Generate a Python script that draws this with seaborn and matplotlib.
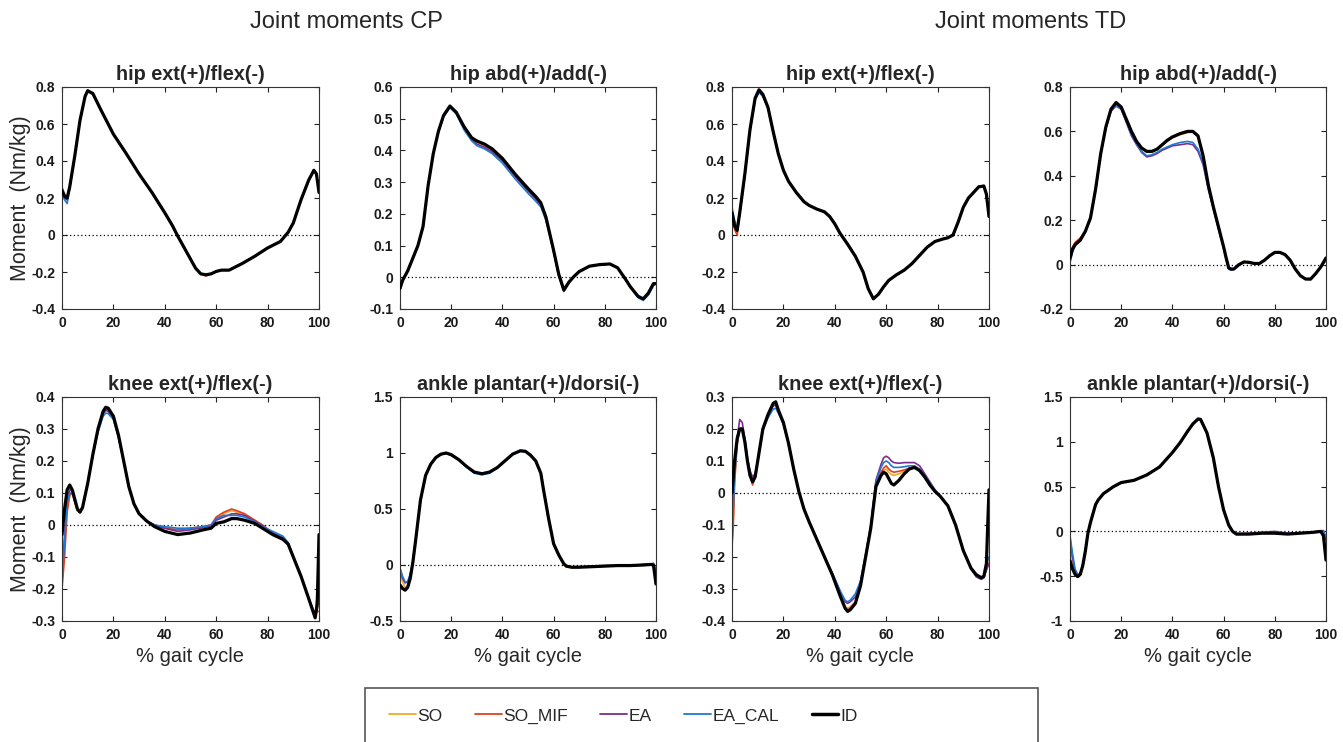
import matplotlib
matplotlib.use("Agg")
import matplotlib.pyplot as plt
import seaborn as sns
from matplotlib.lines import Line2D
from matplotlib.patches import Rectangle

sns.set_style("ticks")
plt.rcParams['font.family'] = ['Liberation Sans', 'DejaVu Sans']

# ---------------- data ----------------
series_names = ["SO", "SO_MIF", "EA", "EA_CAL", "ID"]
group_titles = ["Joint moments CP", "Joint moments TD"]
panel_titles = ["hip ext(+)/flex(-)", "hip abd(+)/add(-)", "hip ext(+)/flex(-)", "hip abd(+)/add(-)",
                "knee ext(+)/flex(-)", "ankle plantar(+)/dorsi(-)", "knee ext(+)/flex(-)", "ankle plantar(+)/dorsi(-)"]
x_ticks = [0, 20, 40, 60, 80, 100]

# A: CP hip ext/flex
xA = [0, 1, 2, 3, 5, 7, 9, 10, 12, 15, 20, 25, 30, 35, 40, 43, 45, 48, 50, 52, 54, 56, 58, 60, 62, 65, 70, 75, 80, 85, 88, 90, 93, 96, 98, 99, 100]
idA = [0.24, 0.21, 0.20, 0.26, 0.43, 0.62, 0.75, 0.78, 0.765, 0.68, 0.545, 0.44, 0.33, 0.23, 0.12, 0.05, -0.005, -0.08, -0.13, -0.18, -0.21, -0.215, -0.21, -0.197, -0.19, -0.19, -0.155, -0.115, -0.07, -0.035, 0.015, 0.065, 0.19, 0.297, 0.35, 0.33, 0.23]
soA = [0.25, 0.21, 0.20, 0.26, 0.43, 0.62, 0.75, 0.78, 0.765, 0.68, 0.545, 0.44, 0.33, 0.23, 0.12, 0.05, -0.005, -0.08, -0.13, -0.18, -0.21, -0.215, -0.21, -0.197, -0.19, -0.19, -0.155, -0.115, -0.07, -0.035, 0.015, 0.065, 0.19, 0.297, 0.35, 0.33, 0.23]
somifA = [0.26, 0.22, 0.20, 0.26, 0.43, 0.62, 0.75, 0.78, 0.765, 0.68, 0.545, 0.44, 0.33, 0.23, 0.12, 0.05, -0.005, -0.08, -0.13, -0.18, -0.21, -0.222, -0.21, -0.197, -0.19, -0.19, -0.155, -0.115, -0.07, -0.035, 0.015, 0.065, 0.19, 0.297, 0.35, 0.33, 0.23]
eaA = [0.23, 0.20, 0.19, 0.26, 0.43, 0.62, 0.75, 0.78, 0.765, 0.68, 0.545, 0.44, 0.33, 0.23, 0.12, 0.05, -0.005, -0.08, -0.13, -0.18, -0.21, -0.215, -0.21, -0.197, -0.19, -0.19, -0.155, -0.115, -0.07, -0.035, 0.015, 0.065, 0.19, 0.297, 0.35, 0.33, 0.23]
ealA = [0.22, 0.19, 0.17, 0.25, 0.43, 0.62, 0.75, 0.775, 0.76, 0.68, 0.545, 0.44, 0.33, 0.23, 0.12, 0.05, -0.005, -0.08, -0.13, -0.18, -0.21, -0.215, -0.21, -0.197, -0.19, -0.19, -0.155, -0.115, -0.07, -0.035, 0.015, 0.065, 0.19, 0.297, 0.35, 0.33, 0.23]

# B: CP hip abd/add
xB = [0, 1, 3, 5, 7, 9, 11, 13, 15, 17, 19.5, 22, 25, 28, 30, 33, 36, 40, 45, 50, 53, 55, 57, 59, 60, 62, 64, 66, 68, 70, 74, 78, 82, 85, 88, 90, 93, 95, 97, 99, 100]
idB = [-0.035, -0.01, 0.02, 0.06, 0.1, 0.16, 0.29, 0.39, 0.46, 0.51, 0.54, 0.52, 0.475, 0.44, 0.43, 0.42, 0.405, 0.375, 0.325, 0.28, 0.255, 0.235, 0.19, 0.12, 0.085, 0.01, -0.04, -0.015, 0.003, 0.018, 0.035, 0.04, 0.042, 0.03, -0.005, -0.03, -0.06, -0.068, -0.05, -0.02, -0.02]
soB = [-0.035, -0.01, 0.02, 0.06, 0.1, 0.16, 0.29, 0.39, 0.46, 0.51, 0.538, 0.518, 0.472, 0.438, 0.425, 0.415, 0.4, 0.37, 0.32, 0.276, 0.251, 0.232, 0.188, 0.12, 0.085, 0.01, -0.04, -0.015, 0.003, 0.018, 0.035, 0.04, 0.042, 0.03, -0.005, -0.03, -0.06, -0.068, -0.05, -0.02, -0.02]
somifB = [-0.035, -0.01, 0.02, 0.06, 0.1, 0.16, 0.29, 0.39, 0.46, 0.51, 0.539, 0.519, 0.473, 0.439, 0.428, 0.418, 0.402, 0.372, 0.322, 0.277, 0.252, 0.233, 0.189, 0.12, 0.085, 0.01, -0.04, -0.015, 0.003, 0.018, 0.035, 0.04, 0.042, 0.03, -0.005, -0.03, -0.06, -0.068, -0.05, -0.02, -0.02]
eaB = [-0.04, -0.012, 0.02, 0.06, 0.1, 0.16, 0.29, 0.39, 0.46, 0.508, 0.537, 0.517, 0.47, 0.435, 0.42, 0.41, 0.395, 0.367, 0.318, 0.272, 0.247, 0.228, 0.185, 0.118, 0.083, 0.005, -0.045, -0.018, 0.003, 0.018, 0.035, 0.04, 0.042, 0.03, -0.005, -0.032, -0.062, -0.071, -0.055, -0.025, -0.02]
ealB = [-0.04, -0.012, 0.02, 0.06, 0.1, 0.16, 0.29, 0.39, 0.458, 0.505, 0.535, 0.515, 0.465, 0.43, 0.415, 0.405, 0.39, 0.36, 0.31, 0.265, 0.24, 0.222, 0.18, 0.115, 0.08, 0.005, -0.04, -0.015, 0.003, 0.018, 0.035, 0.04, 0.042, 0.03, -0.005, -0.032, -0.064, -0.073, -0.056, -0.026, -0.02]

# C: TD hip ext/flex
xC = [0, 1, 2, 3, 5, 7, 9, 10.5, 12, 14, 16, 18, 20, 22, 25, 28, 30, 33, 36, 38, 40, 42, 43, 45, 48, 51, 53, 55, 57, 59, 61, 64, 67, 70, 73, 76, 79, 82, 84, 86, 88, 90, 92, 94, 96, 98, 99, 100]
idC = [0.12, 0.05, 0.025, 0.12, 0.33, 0.57, 0.74, 0.785, 0.76, 0.69, 0.56, 0.44, 0.35, 0.29, 0.23, 0.18, 0.16, 0.14, 0.125, 0.1, 0.06, 0.01, -0.01, -0.05, -0.115, -0.2, -0.29, -0.345, -0.32, -0.28, -0.245, -0.215, -0.19, -0.155, -0.11, -0.065, -0.035, -0.022, -0.015, 0.0, 0.07, 0.15, 0.2, 0.23, 0.26, 0.265, 0.22, 0.1]
soC = [0.12, 0.04, 0.01, 0.12, 0.33, 0.57, 0.74, 0.785, 0.76, 0.69, 0.56, 0.44, 0.35, 0.29, 0.23, 0.18, 0.16, 0.14, 0.125, 0.1, 0.06, 0.01, -0.01, -0.05, -0.115, -0.2, -0.29, -0.345, -0.32, -0.28, -0.245, -0.215, -0.19, -0.155, -0.11, -0.065, -0.035, -0.022, -0.015, 0.0, 0.07, 0.15, 0.2, 0.23, 0.26, 0.265, 0.22, 0.1]
somifC = [0.11, 0.03, 0.0, 0.11, 0.33, 0.57, 0.74, 0.785, 0.76, 0.69, 0.56, 0.44, 0.35, 0.29, 0.23, 0.18, 0.16, 0.14, 0.125, 0.1, 0.06, 0.01, -0.01, -0.05, -0.115, -0.2, -0.29, -0.345, -0.32, -0.28, -0.245, -0.215, -0.19, -0.155, -0.11, -0.065, -0.035, -0.022, -0.015, 0.0, 0.07, 0.15, 0.2, 0.23, 0.26, 0.265, 0.22, 0.1]
eaC = [0.13, 0.06, 0.03, 0.12, 0.33, 0.57, 0.74, 0.78, 0.755, 0.69, 0.56, 0.44, 0.35, 0.29, 0.23, 0.18, 0.16, 0.14, 0.125, 0.1, 0.06, 0.01, -0.01, -0.05, -0.115, -0.2, -0.29, -0.345, -0.32, -0.28, -0.245, -0.215, -0.19, -0.155, -0.11, -0.065, -0.035, -0.022, -0.015, 0.0, 0.07, 0.15, 0.2, 0.23, 0.26, 0.265, 0.22, 0.1]
ealC = [0.15, 0.08, 0.03, 0.11, 0.32, 0.56, 0.73, 0.77, 0.75, 0.685, 0.56, 0.44, 0.35, 0.29, 0.23, 0.18, 0.16, 0.14, 0.125, 0.1, 0.06, 0.01, -0.01, -0.05, -0.115, -0.2, -0.29, -0.345, -0.32, -0.28, -0.245, -0.215, -0.19, -0.155, -0.11, -0.065, -0.035, -0.022, -0.015, 0.0, 0.07, 0.15, 0.2, 0.23, 0.265, 0.265, 0.22, 0.1]

# D: TD hip abd/add
xD = [0, 1, 2, 4, 6, 8, 10, 12, 14, 16, 18, 20, 22, 24, 26, 28, 30, 32, 34, 36, 38, 40, 43, 46, 48, 50, 52, 54, 56, 58, 60, 61, 62, 63, 64, 66, 68, 70, 72, 74, 76, 78, 80, 82, 84, 86, 88, 90, 92, 94, 96, 98, 100]
idD = [0.03, 0.07, 0.09, 0.11, 0.15, 0.21, 0.34, 0.5, 0.62, 0.7, 0.73, 0.71, 0.655, 0.6, 0.555, 0.525, 0.51, 0.51, 0.52, 0.54, 0.56, 0.575, 0.59, 0.6, 0.6, 0.58, 0.49, 0.36, 0.26, 0.17, 0.08, 0.03, -0.015, -0.02, -0.02, 0.0, 0.012, 0.01, 0.005, 0.005, 0.02, 0.04, 0.055, 0.055, 0.045, 0.02, -0.02, -0.05, -0.065, -0.065, -0.04, -0.01, 0.03]
soD = [0.03, 0.07, 0.09, 0.11, 0.15, 0.21, 0.34, 0.5, 0.62, 0.7, 0.728, 0.708, 0.652, 0.598, 0.553, 0.522, 0.507, 0.507, 0.517, 0.537, 0.556, 0.57, 0.585, 0.595, 0.595, 0.575, 0.49, 0.36, 0.26, 0.17, 0.08, 0.03, -0.015, -0.02, -0.02, 0.0, 0.012, 0.01, 0.005, 0.005, 0.02, 0.04, 0.055, 0.055, 0.045, 0.02, -0.02, -0.05, -0.065, -0.065, -0.04, -0.01, 0.03]
somifD = [0.04, 0.08, 0.1, 0.12, 0.15, 0.21, 0.34, 0.5, 0.62, 0.7, 0.728, 0.708, 0.653, 0.599, 0.555, 0.524, 0.51, 0.51, 0.52, 0.54, 0.56, 0.577, 0.592, 0.603, 0.6, 0.58, 0.49, 0.36, 0.26, 0.17, 0.08, 0.03, -0.015, -0.02, -0.02, 0.0, 0.012, 0.01, 0.005, 0.005, 0.02, 0.04, 0.055, 0.055, 0.045, 0.02, -0.02, -0.05, -0.065, -0.065, -0.04, -0.01, 0.03]
eaD = [0.01, 0.06, 0.085, 0.11, 0.15, 0.21, 0.34, 0.5, 0.615, 0.69, 0.715, 0.7, 0.64, 0.58, 0.54, 0.505, 0.485, 0.49, 0.5, 0.515, 0.525, 0.535, 0.54, 0.545, 0.54, 0.51, 0.45, 0.34, 0.25, 0.16, 0.075, 0.025, -0.02, -0.025, -0.02, 0.0, 0.012, 0.01, 0.005, 0.005, 0.02, 0.04, 0.055, 0.055, 0.045, 0.02, -0.02, -0.05, -0.065, -0.068, -0.04, -0.01, 0.02]
ealD = [0.01, 0.06, 0.085, 0.11, 0.15, 0.21, 0.34, 0.5, 0.615, 0.695, 0.715, 0.7, 0.645, 0.585, 0.545, 0.51, 0.49, 0.495, 0.505, 0.52, 0.53, 0.54, 0.55, 0.555, 0.55, 0.52, 0.46, 0.35, 0.255, 0.165, 0.075, 0.025, -0.02, -0.025, -0.02, 0.0, 0.012, 0.01, 0.005, 0.005, 0.02, 0.04, 0.055, 0.055, 0.045, 0.02, -0.02, -0.05, -0.065, -0.065, -0.04, -0.01, 0.02]

# E: CP knee ext/flex
xE = [0, 1, 2, 3, 4, 5, 6, 7, 8, 10, 12, 14, 16, 17, 18, 20, 22, 24, 26, 28, 30, 33, 36, 40, 45, 50, 55, 58, 60, 63, 66, 68, 71, 75, 78, 82, 86, 88, 90, 93, 96, 98.5, 99.3, 100]
idE = [-0.03, 0.05, 0.11, 0.125, 0.11, 0.08, 0.05, 0.04, 0.055, 0.13, 0.22, 0.3, 0.355, 0.368, 0.365, 0.34, 0.28, 0.2, 0.12, 0.066, 0.035, 0.012, -0.005, -0.02, -0.03, -0.025, -0.015, -0.01, 0.005, 0.01, 0.02, 0.02, 0.015, 0.005, -0.01, -0.03, -0.045, -0.06, -0.1, -0.16, -0.23, -0.29, -0.25, -0.03]
soE = [-0.18, -0.06, 0.05, 0.09, 0.1, 0.07, 0.045, 0.04, 0.055, 0.13, 0.22, 0.295, 0.35, 0.36, 0.358, 0.335, 0.275, 0.2, 0.12, 0.066, 0.035, 0.012, 0.0, -0.01, -0.015, -0.01, -0.005, 0.0, 0.02, 0.035, 0.045, 0.04, 0.035, 0.015, 0.0, -0.025, -0.04, -0.058, -0.1, -0.16, -0.23, -0.28, -0.26, -0.23]
somifE = [-0.2, -0.1, 0.04, 0.095, 0.1, 0.07, 0.045, 0.04, 0.055, 0.13, 0.22, 0.295, 0.352, 0.362, 0.36, 0.336, 0.276, 0.2, 0.12, 0.066, 0.035, 0.012, 0.0, -0.01, -0.015, -0.01, -0.005, 0.0, 0.025, 0.04, 0.05, 0.045, 0.035, 0.015, 0.0, -0.025, -0.04, -0.058, -0.1, -0.16, -0.23, -0.28, -0.27, -0.27]
eaE = [-0.16, -0.03, 0.08, 0.11, 0.105, 0.075, 0.048, 0.04, 0.055, 0.13, 0.22, 0.295, 0.35, 0.358, 0.355, 0.332, 0.274, 0.2, 0.12, 0.066, 0.035, 0.012, 0.0, -0.01, -0.02, -0.015, -0.008, -0.003, 0.015, 0.025, 0.035, 0.035, 0.03, 0.012, -0.002, -0.025, -0.04, -0.058, -0.1, -0.16, -0.23, -0.28, -0.22, -0.16]
ealE = [-0.17, -0.05, 0.07, 0.1, 0.1, 0.075, 0.048, 0.04, 0.055, 0.13, 0.22, 0.29, 0.34, 0.35, 0.348, 0.33, 0.272, 0.2, 0.12, 0.066, 0.035, 0.012, 0.0, -0.005, -0.01, -0.01, -0.005, 0.0, 0.02, 0.03, 0.03, 0.03, 0.025, 0.01, -0.005, -0.02, -0.035, -0.055, -0.1, -0.16, -0.23, -0.28, -0.24, -0.2]

# F: CP ankle plantar/dorsi
xF = [0, 1, 2, 3, 4, 5, 6, 8, 10, 12, 14, 16, 18, 20, 23, 26, 29, 32, 35, 38, 41, 44, 47, 49, 51, 53, 55, 56, 58, 60, 62, 64, 65, 67, 70, 75, 80, 85, 90, 95, 98, 99, 100]
idF = [-0.18, -0.21, -0.225, -0.2, -0.12, 0.02, 0.2, 0.58, 0.8, 0.9, 0.96, 0.99, 1.0, 0.985, 0.94, 0.88, 0.83, 0.815, 0.83, 0.87, 0.93, 0.99, 1.02, 1.015, 0.98, 0.93, 0.82, 0.68, 0.42, 0.19, 0.09, 0.01, -0.01, -0.02, -0.02, -0.015, -0.01, -0.005, -0.005, 0.0, 0.005, 0.0, -0.17]
soF = [-0.05, -0.15, -0.2, -0.19, -0.12, 0.02, 0.2, 0.58, 0.8, 0.9, 0.96, 0.99, 1.0, 0.985, 0.94, 0.88, 0.83, 0.815, 0.83, 0.87, 0.93, 0.99, 1.02, 1.015, 0.98, 0.93, 0.82, 0.68, 0.42, 0.19, 0.09, 0.0, -0.02, -0.02, -0.02, -0.015, -0.01, -0.005, -0.005, 0.0, 0.008, 0.01, -0.06]
somifF = [-0.17, -0.2, -0.22, -0.2, -0.12, 0.02, 0.2, 0.58, 0.8, 0.9, 0.96, 0.99, 1.0, 0.985, 0.94, 0.88, 0.83, 0.815, 0.83, 0.87, 0.93, 0.99, 1.02, 1.015, 0.98, 0.93, 0.82, 0.68, 0.42, 0.19, 0.09, 0.01, -0.01, -0.02, -0.02, -0.015, -0.01, -0.005, -0.005, 0.0, 0.005, 0.005, -0.1]
eaF = [-0.03, -0.12, -0.16, -0.15, -0.09, 0.03, 0.2, 0.58, 0.8, 0.9, 0.96, 0.99, 1.0, 0.985, 0.94, 0.88, 0.83, 0.815, 0.83, 0.87, 0.93, 0.99, 1.02, 1.015, 0.98, 0.93, 0.82, 0.68, 0.42, 0.19, 0.09, 0.01, -0.01, -0.02, -0.015, -0.01, -0.005, -0.005, -0.005, 0.005, 0.01, 0.015, -0.05]
ealF = [-0.03, -0.1, -0.15, -0.15, -0.08, 0.03, 0.2, 0.58, 0.8, 0.9, 0.955, 0.985, 0.995, 0.98, 0.935, 0.875, 0.82, 0.805, 0.82, 0.865, 0.925, 0.985, 1.015, 1.01, 0.975, 0.93, 0.82, 0.68, 0.42, 0.19, 0.09, 0.01, -0.01, -0.02, -0.02, -0.015, -0.01, -0.005, -0.005, 0.0, 0.005, 0.01, -0.1]

# G: TD knee ext/flex
xG = [0, 0.5, 1, 2, 3, 4, 5, 6, 7, 8, 9, 10, 12, 14, 16, 17, 18, 20, 22, 24, 26, 28, 30, 33, 36, 39, 42, 44, 45, 46, 48, 50, 52, 54, 56, 58, 59, 60, 61, 62, 63, 65, 67, 69, 71, 73, 75, 77, 79, 81, 84, 87, 90, 93, 95, 97, 98, 99, 99.5, 100]
idG = [0.0, 0.05, 0.1, 0.17, 0.2, 0.2, 0.16, 0.1, 0.055, 0.035, 0.05, 0.1, 0.2, 0.245, 0.28, 0.285, 0.26, 0.22, 0.155, 0.075, 0.005, -0.05, -0.09, -0.145, -0.2, -0.255, -0.32, -0.36, -0.37, -0.365, -0.345, -0.29, -0.2, -0.11, 0.02, 0.055, 0.065, 0.06, 0.045, 0.03, 0.025, 0.04, 0.06, 0.075, 0.08, 0.07, 0.05, 0.025, 0.005, -0.01, -0.04, -0.1, -0.18, -0.235, -0.255, -0.265, -0.26, -0.22, -0.1, 0.01]
soG = [-0.16, -0.08, 0.04, 0.16, 0.2, 0.205, 0.16, 0.1, 0.055, 0.03, 0.05, 0.1, 0.2, 0.245, 0.278, 0.282, 0.258, 0.218, 0.155, 0.075, 0.005, -0.05, -0.09, -0.145, -0.2, -0.255, -0.315, -0.355, -0.36, -0.355, -0.34, -0.285, -0.2, -0.11, 0.025, 0.06, 0.07, 0.075, 0.065, 0.058, 0.055, 0.06, 0.068, 0.075, 0.08, 0.072, 0.052, 0.027, 0.006, -0.01, -0.04, -0.1, -0.18, -0.235, -0.257, -0.262, -0.258, -0.24, -0.22, -0.2]
somifG = [-0.17, -0.1, 0.03, 0.15, 0.2, 0.205, 0.16, 0.1, 0.055, 0.025, 0.05, 0.1, 0.2, 0.245, 0.278, 0.283, 0.259, 0.219, 0.155, 0.075, 0.005, -0.05, -0.09, -0.145, -0.2, -0.255, -0.318, -0.36, -0.365, -0.36, -0.342, -0.287, -0.2, -0.11, 0.028, 0.065, 0.078, 0.085, 0.075, 0.068, 0.065, 0.068, 0.072, 0.078, 0.082, 0.073, 0.052, 0.027, 0.006, -0.01, -0.04, -0.1, -0.18, -0.235, -0.258, -0.264, -0.26, -0.24, -0.23, -0.22]
eaG = [-0.1, 0.0, 0.08, 0.17, 0.23, 0.22, 0.17, 0.11, 0.07, 0.05, 0.06, 0.1, 0.2, 0.24, 0.272, 0.275, 0.255, 0.215, 0.155, 0.075, 0.005, -0.05, -0.09, -0.145, -0.2, -0.25, -0.305, -0.34, -0.345, -0.34, -0.325, -0.28, -0.2, -0.105, 0.04, 0.09, 0.11, 0.115, 0.11, 0.1, 0.095, 0.093, 0.095, 0.095, 0.095, 0.085, 0.06, 0.035, 0.01, -0.01, -0.04, -0.1, -0.18, -0.237, -0.262, -0.27, -0.265, -0.24, -0.23, -0.22]
ealG = [-0.16, -0.05, 0.05, 0.16, 0.2, 0.2, 0.16, 0.1, 0.055, 0.035, 0.05, 0.1, 0.195, 0.235, 0.262, 0.265, 0.25, 0.215, 0.155, 0.075, 0.005, -0.05, -0.09, -0.145, -0.2, -0.25, -0.305, -0.335, -0.34, -0.335, -0.315, -0.275, -0.19, -0.1, 0.035, 0.08, 0.095, 0.1, 0.095, 0.085, 0.08, 0.08, 0.082, 0.085, 0.085, 0.075, 0.055, 0.03, 0.008, -0.01, -0.04, -0.1, -0.18, -0.235, -0.258, -0.265, -0.26, -0.23, -0.21, -0.2]

# H: TD ankle plantar/dorsi
xH = [0, 1, 2, 3, 4, 5, 6, 7, 8, 9, 10, 11, 13, 15, 17, 20, 25, 30, 35, 40, 43, 46, 48, 50, 51, 53.5, 56, 58, 60, 62, 63.5, 65, 70, 75, 80, 85, 90, 95, 98, 99, 100]
idH = [-0.33, -0.42, -0.48, -0.505, -0.48, -0.38, -0.22, -0.02, 0.1, 0.2, 0.3, 0.35, 0.42, 0.46, 0.5, 0.545, 0.57, 0.63, 0.72, 0.88, 0.99, 1.12, 1.2, 1.255, 1.25, 1.1, 0.82, 0.5, 0.24, 0.07, 0.0, -0.03, -0.03, -0.02, -0.02, -0.03, -0.02, -0.01, 0.0, -0.05, -0.32]
soH = [-0.1, -0.33, -0.46, -0.5, -0.48, -0.38, -0.22, -0.02, 0.1, 0.2, 0.3, 0.35, 0.42, 0.46, 0.5, 0.545, 0.57, 0.63, 0.72, 0.88, 0.99, 1.12, 1.2, 1.25, 1.245, 1.1, 0.82, 0.5, 0.24, 0.07, 0.0, -0.03, -0.03, -0.02, -0.02, -0.03, -0.02, -0.01, 0.0, 0.0, -0.08]
somifH = [-0.3, -0.4, -0.47, -0.5, -0.48, -0.38, -0.22, -0.02, 0.1, 0.2, 0.3, 0.35, 0.42, 0.46, 0.5, 0.545, 0.57, 0.63, 0.72, 0.88, 0.99, 1.12, 1.2, 1.255, 1.25, 1.1, 0.82, 0.5, 0.24, 0.07, 0.0, -0.03, -0.03, -0.02, -0.02, -0.03, -0.02, -0.01, 0.0, -0.02, -0.2]
eaH = [-0.08, -0.3, -0.45, -0.49, -0.47, -0.37, -0.21, -0.02, 0.1, 0.2, 0.3, 0.35, 0.42, 0.46, 0.5, 0.545, 0.57, 0.63, 0.72, 0.88, 0.99, 1.12, 1.2, 1.25, 1.245, 1.1, 0.82, 0.5, 0.24, 0.07, 0.0, -0.025, -0.02, -0.01, 0.0, -0.02, -0.015, -0.005, 0.005, 0.01, -0.1]
ealH = [-0.05, -0.25, -0.42, -0.48, -0.47, -0.37, -0.21, -0.02, 0.1, 0.2, 0.3, 0.35, 0.42, 0.46, 0.5, 0.545, 0.57, 0.63, 0.72, 0.88, 0.99, 1.115, 1.195, 1.245, 1.24, 1.1, 0.82, 0.5, 0.24, 0.07, 0.0, -0.035, -0.03, -0.02, -0.02, -0.03, -0.02, -0.01, 0.0, 0.0, -0.05]

yticks_A = [-0.4, -0.2, 0, 0.2, 0.4, 0.6, 0.8]
ylabels_A = ["-0.4", "-0.2", "0", "0.2", "0.4", "0.6", "0.8"]
yticks_B = [-0.1, 0, 0.1, 0.2, 0.3, 0.4, 0.5, 0.6]
ylabels_B = ["-0.1", "0", "0.1", "0.2", "0.3", "0.4", "0.5", "0.6"]
yticks_D = [-0.2, 0, 0.2, 0.4, 0.6, 0.8]
ylabels_D = ["-0.2", "0", "0.2", "0.4", "0.6", "0.8"]
yticks_E = [-0.3, -0.2, -0.1, 0, 0.1, 0.2, 0.3, 0.4]
ylabels_E = ["-0.3", "-0.2", "-0.1", "0", "0.1", "0.2", "0.3", "0.4"]
yticks_F = [-0.5, 0, 0.5, 1, 1.5]
ylabels_F = ["-0.5", "0", "0.5", "1", "1.5"]
yticks_G = [-0.4, -0.3, -0.2, -0.1, 0, 0.1, 0.2, 0.3]
ylabels_G = ["-0.4", "-0.3", "-0.2", "-0.1", "0", "0.1", "0.2", "0.3"]
yticks_H = [-1, -0.5, 0, 0.5, 1, 1.5]
ylabels_H = ["-1", "-0.5", "0", "0.5", "1", "1.5"]

# ---------------- styling ----------------
colors = {"SO": "#F2A82B", "SO_MIF": "#E0401E", "EA": "#7B2D8E", "EA_CAL": "#1F78D1", "ID": "#000000"}
widths = {"SO": 1.2, "SO_MIF": 1.2, "EA": 1.2, "EA_CAL": 1.2, "ID": 2.3}

panels = [
    (xA, [soA, somifA, eaA, ealA, idA], yticks_A, ylabels_A),
    (xB, [soB, somifB, eaB, ealB, idB], yticks_B, ylabels_B),
    (xC, [soC, somifC, eaC, ealC, idC], yticks_A, ylabels_A),
    (xD, [soD, somifD, eaD, ealD, idD], yticks_D, ylabels_D),
    (xE, [soE, somifE, eaE, ealE, idE], yticks_E, ylabels_E),
    (xF, [soF, somifF, eaF, ealF, idF], yticks_F, ylabels_F),
    (xG, [soG, somifG, eaG, ealG, idG], yticks_G, ylabels_G),
    (xH, [soH, somifH, eaH, ealH, idH], yticks_H, ylabels_H),
]

W, H = 1343, 742
fig = plt.figure(figsize=(W / 100, H / 100), dpi=100)
col_px = [(62, 257), (400, 256), (732, 257), (1070, 256)]
row_px = [(87, 309), (397, 621)]

for i, (x, ys, yt, yl) in enumerate(panels):
    r, c = divmod(i, 4)
    left, wid = col_px[c]
    top, bot = row_px[r]
    ax = fig.add_axes([left / W, 1 - bot / H, wid / W, (bot - top) / H])
    ax.axhline(0, color="black", linestyle=(0, (1, 2)), linewidth=0.9, zorder=1)
    for name, y in zip(series_names, ys):
        sns.lineplot(x=x, y=y, ax=ax, color=colors[name], linewidth=widths[name],
                     sort=False, errorbar=None, legend=False, zorder=3 if name == "ID" else 2)
    ax.set_xlim(0, 100)
    ax.set_ylim(yt[0], yt[-1])
    ax.set_xticks(x_ticks)
    ax.set_xticklabels([str(t) for t in x_ticks], fontweight="bold")
    ax.set_yticks(yt)
    ax.set_yticklabels(yl, fontweight="bold")
    ax.tick_params(direction="in", length=3.5, width=0.8, labelsize=10, top=True, right=True,
                   colors="#222222", labelcolor="#1a1a1a")
    ax.tick_params(axis="x", pad=5)
    ax.tick_params(axis="y", pad=5)
    for s in ax.spines.values():
        s.set_visible(True)
        s.set_linewidth(0.8)
        s.set_color("#333333")
    ax.set_title(panel_titles[i], fontsize=14.3, fontweight="bold", pad=5)
    ax.set_xlabel("% gait cycle" if r == 1 else "", fontsize=14.5, labelpad=4)
    ax.set_ylabel("Moment  (Nm/kg)" if c == 0 else "", fontsize=15.5, labelpad=0)

fig.text(346 / W, 1 - 22 / H, group_titles[0], ha="center", va="center", fontsize=17)
fig.text(1031 / W, 1 - 22 / H, group_titles[1], ha="center", va="center", fontsize=17)

# legend
handles = [Line2D([], [], color=colors[n], linewidth=(2.5 if n == "ID" else 1.3)) for n in series_names]
fig.legend(handles, series_names, loc="center left", bbox_to_anchor=(389 / W, 1 - 716 / H),
           ncol=5, frameon=False, fontsize=12.5, handlelength=1.55, handletextpad=0.1,
           columnspacing=1.85, borderpad=0, borderaxespad=0)
fig.add_artist(Rectangle((365 / W, -0.02), (1038 - 365) / W, (742 - 688) / H + 0.02,
                         transform=fig.transFigure, fill=False, edgecolor="#555555", linewidth=1.2))

fig.savefig("out.png", dpi=100)
